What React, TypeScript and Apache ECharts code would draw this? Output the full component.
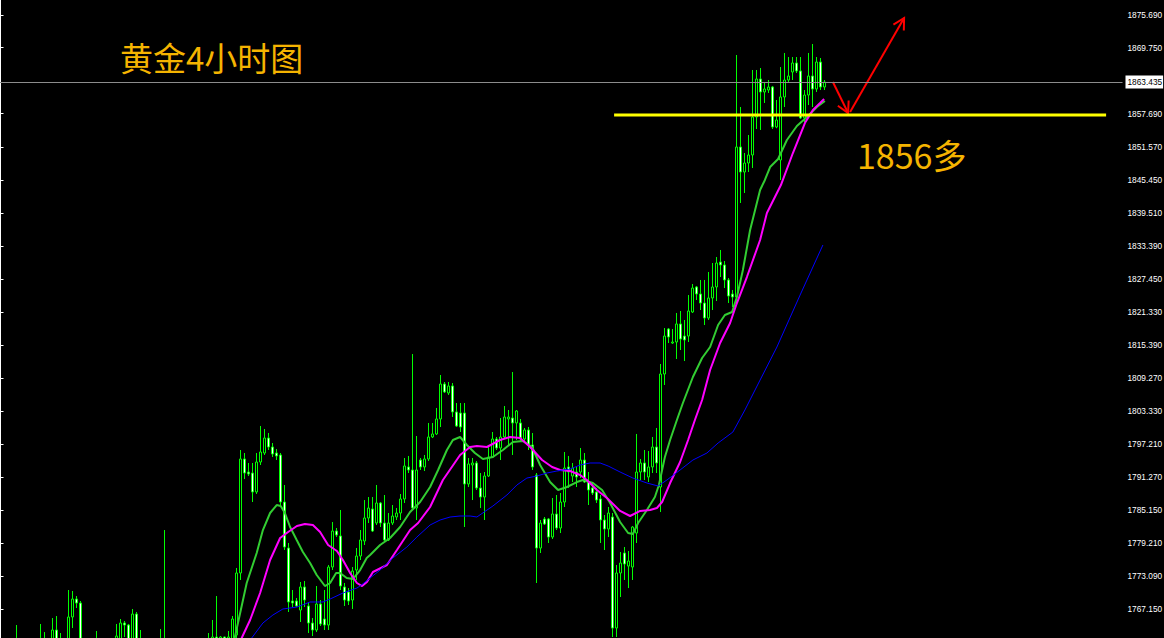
import React, { useEffect, useRef } from "react";
import * as echarts from "echarts";

// 4-hour bar slots across the plot (the last ~74 are empty space to the right)
const SLOT_COUNT = 281;
const barSlots: string[] = Array.from({ length: SLOT_COUNT }, (_, i) => "B" + (i + 1));

// candles: [open, close, low, high]
const candles: number[][] = [
  [1757.2, 1758.4, 1755.9, 1759.6], [1758.4, 1757.6, 1756.2, 1759.3], [1757.6, 1756.5, 1755.1, 1758.7],
  [1756.5, 1758.9, 1755.8, 1760.2], [1758.9, 1760.3, 1757.4, 1764.22], [1760.3, 1758.1, 1757.0, 1760.9],
  [1758.1, 1756.9, 1755.4, 1759.2], [1756.9, 1755.3, 1753.8, 1757.8], [1755.3, 1756.8, 1754.1, 1757.9],
  [1756.8, 1758.6, 1755.9, 1759.7], [1758.6, 1760.4, 1757.3, 1764.41], [1760.4, 1759.2, 1758.0, 1762.94],
  [1759.2, 1760.1, 1757.9, 1761.2], [1760.1, 1763.31, 1759.4, 1765.5], [1763.31, 1759.8, 1758.7, 1765.87],
  [1759.8, 1760.6, 1758.2, 1762.76], [1760.6, 1761.3, 1759.0, 1761.6], [1761.3, 1765.69, 1760.2, 1770.62],
  [1765.69, 1768.97, 1763.67, 1770.44], [1768.97, 1768.24, 1767.33, 1769.52], [1768.24, 1760.5, 1759.3, 1768.61],
  [1760.5, 1758.2, 1757.1, 1761.0], [1758.2, 1757.0, 1755.8, 1759.4], [1757.0, 1758.6, 1756.1, 1759.8],
  [1758.6, 1760.8, 1757.5, 1763.13], [1760.8, 1759.1, 1758.2, 1761.4], [1759.1, 1757.3, 1756.0, 1759.9],
  [1757.3, 1756.2, 1754.9, 1758.1], [1756.2, 1758.7, 1755.4, 1759.6], [1758.7, 1762.21, 1757.9, 1764.41],
  [1761.2, 1764.59, 1760.4, 1765.32], [1764.59, 1764.22, 1762.03, 1764.95], [1764.22, 1760.9, 1759.8, 1764.41],
  [1760.9, 1766.23, 1759.6, 1767.15], [1766.23, 1760.2, 1758.9, 1766.6], [1760.2, 1759.1, 1757.8, 1763.31],
  [1759.1, 1757.4, 1756.2, 1760.0], [1757.4, 1756.0, 1754.8, 1758.3], [1756.0, 1757.9, 1755.2, 1758.8],
  [1757.9, 1759.6, 1756.8, 1760.7], [1759.6, 1758.0, 1757.1, 1763.49], [1758.0, 1759.4, 1756.5, 1781.58],
  [1759.4, 1757.7, 1756.3, 1760.5], [1757.7, 1756.2, 1755.0, 1758.6], [1756.2, 1754.8, 1753.6, 1757.1],
  [1754.8, 1756.3, 1753.9, 1757.2], [1756.3, 1755.1, 1754.0, 1757.5], [1755.1, 1753.6, 1752.4, 1756.0],
  [1753.6, 1755.4, 1752.9, 1756.3], [1755.4, 1757.2, 1754.6, 1758.1], [1757.2, 1758.9, 1756.3, 1759.8],
  [1758.9, 1757.5, 1756.7, 1760.3], [1757.5, 1759.6, 1756.9, 1762.76], [1759.6, 1762.03, 1758.8, 1765.14],
  [1762.03, 1760.4, 1759.2, 1769.52], [1760.4, 1762.03, 1759.8, 1762.2], [1762.03, 1760.8, 1759.9, 1762.1],
  [1760.8, 1762.03, 1760.1, 1763.13], [1761.3, 1765.32, 1760.4, 1765.87], [1762.4, 1773.73, 1761.2, 1774.64],
  [1773.73, 1794.56, 1772.45, 1796.2], [1794.56, 1792.0, 1790.9, 1795.65], [1792.18, 1791.82, 1791.45, 1793.83],
  [1792.0, 1788.53, 1786.7, 1793.83], [1788.53, 1794.01, 1788.16, 1795.65], [1794.01, 1795.84, 1793.46, 1800.59],
  [1795.65, 1798.39, 1795.29, 1800.04], [1798.39, 1796.75, 1796.2, 1799.31], [1796.75, 1795.47, 1794.92, 1797.48],
  [1795.65, 1795.11, 1794.37, 1796.38], [1795.29, 1786.7, 1786.15, 1795.65], [1786.7, 1778.48, 1777.93, 1789.81],
  [1778.29, 1768.43, 1766.6, 1779.21], [1768.61, 1768.24, 1767.51, 1770.62], [1768.61, 1767.7, 1767.51, 1769.16],
  [1766.96, 1771.17, 1764.77, 1772.08], [1771.17, 1768.79, 1767.51, 1772.26], [1767.7, 1764.59, 1762.76, 1768.43],
  [1764.59, 1763.31, 1762.21, 1765.5], [1763.31, 1768.06, 1762.94, 1771.35], [1768.06, 1764.41, 1764.04, 1768.79],
  [1765.32, 1764.22, 1763.31, 1770.62], [1764.22, 1774.82, 1763.31, 1775.19], [1774.82, 1781.4, 1774.27, 1783.04],
  [1781.4, 1780.67, 1780.3, 1781.95], [1780.49, 1771.35, 1770.62, 1785.24], [1771.17, 1768.79, 1767.7, 1771.9],
  [1770.25, 1768.61, 1767.88, 1770.98], [1768.79, 1774.09, 1767.15, 1774.82], [1774.27, 1776.83, 1772.45, 1778.29],
  [1776.83, 1779.76, 1776.1, 1781.58], [1779.57, 1783.78, 1778.84, 1787.06], [1783.78, 1785.6, 1782.86, 1787.61],
  [1785.42, 1781.4, 1781.22, 1787.61], [1782.86, 1786.52, 1782.5, 1789.81], [1786.52, 1782.86, 1782.13, 1786.7],
  [1782.86, 1779.76, 1779.57, 1787.98], [1779.76, 1782.86, 1779.57, 1784.69], [1782.86, 1784.14, 1782.5, 1786.15],
  [1783.96, 1784.69, 1783.41, 1785.6], [1784.69, 1787.25, 1783.41, 1788.16], [1787.25, 1793.28, 1786.52, 1794.74],
  [1793.1, 1792.55, 1792.0, 1795.11], [1792.55, 1785.6, 1785.24, 1813.74], [1785.6, 1792.55, 1783.41, 1798.76],
  [1794.37, 1793.1, 1792.55, 1794.74], [1793.1, 1794.56, 1792.36, 1795.29], [1794.56, 1798.58, 1794.19, 1801.14],
  [1798.58, 1799.13, 1798.39, 1801.14], [1799.13, 1801.87, 1798.94, 1803.88], [1801.87, 1808.26, 1800.4, 1809.91],
  [1808.26, 1806.8, 1806.62, 1808.63], [1806.62, 1807.9, 1806.25, 1808.63], [1807.9, 1803.15, 1802.23, 1808.44],
  [1803.15, 1800.59, 1800.4, 1804.79], [1802.96, 1800.4, 1799.49, 1804.79], [1802.96, 1789.99, 1782.13, 1804.79],
  [1789.99, 1793.65, 1789.44, 1794.74], [1793.46, 1793.83, 1787.06, 1794.74], [1793.83, 1789.26, 1788.89, 1794.19],
  [1789.26, 1787.61, 1785.6, 1792.0], [1787.61, 1791.45, 1783.41, 1792.18], [1791.45, 1794.92, 1791.27, 1797.12],
  [1794.92, 1798.21, 1794.74, 1799.49], [1798.21, 1796.57, 1796.2, 1798.58], [1796.57, 1798.58, 1794.37, 1802.05],
  [1798.58, 1802.23, 1798.39, 1804.24], [1801.87, 1802.23, 1797.12, 1803.51], [1802.05, 1801.14, 1795.29, 1810.45],
  [1801.14, 1803.33, 1798.03, 1803.51], [1801.14, 1798.21, 1797.66, 1801.87], [1798.21, 1799.86, 1797.48, 1800.22],
  [1799.86, 1797.12, 1796.2, 1800.4], [1797.12, 1793.1, 1792.55, 1799.31], [1791.63, 1778.29, 1771.9, 1792.0],
  [1778.29, 1782.86, 1777.38, 1783.41], [1783.59, 1782.68, 1782.5, 1783.96], [1783.59, 1780.3, 1779.21, 1783.78],
  [1780.3, 1784.51, 1779.94, 1787.43], [1784.51, 1781.95, 1781.58, 1787.98], [1781.95, 1786.7, 1781.03, 1788.34],
  [1786.7, 1792.91, 1785.79, 1795.84], [1793.1, 1792.18, 1789.26, 1795.11], [1791.45, 1792.91, 1790.35, 1793.83],
  [1792.18, 1791.27, 1789.44, 1793.1], [1792.18, 1794.37, 1791.08, 1796.57], [1794.37, 1790.35, 1790.17, 1795.65],
  [1790.35, 1788.89, 1786.15, 1792.18], [1789.26, 1788.34, 1787.98, 1790.35], [1788.53, 1787.06, 1786.52, 1789.26],
  [1787.25, 1783.41, 1779.21, 1787.98], [1783.41, 1781.77, 1777.93, 1784.32], [1781.77, 1784.69, 1780.3, 1785.79],
  [1783.96, 1763.67, 1762.03, 1784.69], [1763.67, 1773.73, 1762.03, 1775.19], [1773.73, 1775.55, 1769.34, 1777.56],
  [1777.38, 1775.37, 1772.45, 1778.48], [1775.0, 1775.92, 1770.98, 1777.75], [1774.82, 1782.13, 1772.45, 1782.31],
  [1781.03, 1792.18, 1779.21, 1799.13], [1792.18, 1793.83, 1790.72, 1794.56], [1793.83, 1792.18, 1790.72, 1796.2],
  [1791.27, 1793.1, 1790.35, 1796.02], [1793.1, 1796.75, 1792.0, 1798.58], [1796.75, 1793.83, 1792.0, 1800.22],
  [1789.44, 1810.09, 1784.87, 1811.92], [1810.09, 1817.03, 1808.08, 1818.49], [1818.31, 1816.85, 1815.75, 1818.49],
  [1815.75, 1815.94, 1815.57, 1818.31], [1815.94, 1819.23, 1812.83, 1821.24], [1819.23, 1816.48, 1814.47, 1821.6],
  [1817.03, 1816.3, 1812.46, 1819.96], [1817.03, 1821.6, 1815.94, 1824.52], [1821.42, 1825.8, 1821.24, 1826.53],
  [1825.99, 1824.71, 1823.61, 1826.17], [1824.71, 1823.06, 1821.78, 1827.27], [1823.06, 1820.32, 1819.04, 1827.27],
  [1820.32, 1823.98, 1819.96, 1828.73], [1823.98, 1825.99, 1821.78, 1830.37], [1825.99, 1830.37, 1823.43, 1831.47],
  [1830.55, 1830.01, 1827.81, 1832.75], [1830.01, 1827.27, 1825.8, 1830.74], [1827.27, 1824.34, 1823.06, 1827.63],
  [1824.71, 1824.16, 1822.33, 1825.44], [1824.16, 1851.57, 1823.06, 1868.38], [1851.57, 1847.0, 1841.34, 1858.88],
  [1847.0, 1848.64, 1843.16, 1850.47], [1848.64, 1850.11, 1847.0, 1853.76], [1850.11, 1857.05, 1847.73, 1865.64],
  [1857.05, 1863.99, 1854.86, 1865.64], [1863.99, 1861.62, 1854.68, 1866.0], [1861.62, 1862.17, 1859.61, 1863.45],
  [1861.98, 1862.53, 1861.44, 1863.81], [1862.53, 1855.22, 1854.86, 1862.72], [1855.22, 1856.5, 1855.0, 1860.16],
  [1849.19, 1860.71, 1845.54, 1866.19], [1860.71, 1863.81, 1858.88, 1868.75], [1863.81, 1864.54, 1863.45, 1868.01],
  [1865.27, 1866.92, 1863.81, 1868.01], [1866.92, 1865.46, 1865.09, 1868.01], [1865.46, 1856.87, 1856.69, 1868.01],
  [1856.87, 1861.07, 1856.14, 1861.98], [1861.07, 1864.54, 1859.24, 1868.75], [1864.54, 1862.17, 1858.88, 1870.39],
  [1862.17, 1867.1, 1861.62, 1868.01], [1867.1, 1862.53, 1861.98, 1867.83], [1862.53, 1863.44, 1861.98, 1863.81],
];

// moving averages: [bar position, price]
const maFast: number[][] = [
  [57.9, 1759.66], [61.55, 1771.9], [64.05, 1777.38], [65.6, 1781.58], [67.4, 1784.69], [69.05, 1786.15],
  [70.05, 1785.97], [71.1, 1784.69], [72.4, 1782.13], [74.05, 1779.76], [75.6, 1777.56], [77.4, 1775.55],
  [79.05, 1773.36], [81.1, 1771.35], [82.4, 1771.9], [83.9, 1773.73], [84.9, 1773.73], [86.55, 1772.81],
  [88.1, 1772.63], [89.9, 1774.27], [91.55, 1776.47], [92.4, 1777.01], [94.9, 1778.84], [97.4, 1780.12],
  [99.9, 1782.13], [102.4, 1784.87], [104.9, 1786.7], [107.4, 1789.44], [109.4, 1792.55], [111.6, 1796.2],
  [113.1, 1798.03], [114.9, 1798.58], [116.6, 1797.12], [118.6, 1795.65], [120.6, 1794.56], [123.1, 1794.92],
  [125.6, 1796.2], [128.1, 1797.66], [130.6, 1797.85], [132.9, 1796.75], [134.9, 1793.46], [137.4, 1790.35],
  [139.4, 1788.89], [141.6, 1789.44], [144.1, 1790.35], [145.6, 1790.72], [148.1, 1790.17], [150.4, 1788.89],
  [152.4, 1786.52], [154.9, 1783.04], [156.9, 1781.03], [158.1, 1780.85], [159.4, 1782.86], [161.6, 1785.24],
  [163.6, 1787.61], [164.6, 1789.81], [166.1, 1794.92], [167.4, 1798.03], [169.1, 1801.68], [170.6, 1804.79],
  [173.1, 1809.54], [175.4, 1813.01], [177.4, 1815.02], [179.4, 1819.04], [181.1, 1820.87], [182.9, 1821.42],
  [184.1, 1824.16], [185.6, 1829.09], [187.4, 1836.4], [189.9, 1843.71], [191.1, 1845.54], [192.4, 1847.91],
  [194.4, 1849.38], [196.6, 1852.85], [199.1, 1855.41], [201.6, 1857.05], [204.1, 1858.88], [206.1, 1859.97],
];
const maMid: number[][] = [
  [58.9, 1759.66], [60.3, 1761.85], [62.4, 1765.14], [64.9, 1770.07], [67.4, 1776.1], [69.9, 1780.12],
  [71.9, 1781.22], [74.1, 1782.31], [76.1, 1782.68], [78.1, 1782.5], [79.9, 1781.22], [81.9, 1778.84],
  [84.1, 1777.75], [85.6, 1776.1], [87.4, 1773.73], [89.1, 1771.9], [90.4, 1771.35], [91.6, 1772.08],
  [93.1, 1773.91], [96.6, 1775.19], [99.1, 1777.93], [102.4, 1781.58], [104.4, 1782.86], [107.4, 1785.79],
  [110.6, 1790.72], [114.9, 1795.29], [117.4, 1796.75], [119.1, 1796.93], [121.6, 1796.75], [124.9, 1798.03],
  [127.4, 1798.58], [129.9, 1798.39], [132.4, 1796.75], [135.4, 1794.37], [137.9, 1793.1], [139.9, 1792.55],
  [142.4, 1792.36], [144.9, 1791.63], [146.6, 1790.72], [149.1, 1788.89], [151.6, 1787.43], [154.9, 1785.06],
  [157.4, 1784.14], [159.9, 1785.06], [162.4, 1785.24], [164.1, 1785.6], [165.4, 1786.7], [167.4, 1790.17],
  [169.9, 1794.01], [171.9, 1798.03], [173.6, 1801.68], [175.4, 1805.34], [177.4, 1810.82], [179.9, 1815.75],
  [182.4, 1819.41], [184.1, 1823.06], [186.6, 1827.81], [189.9, 1834.57], [191.6, 1839.51], [195.1, 1844.62],
  [198.1, 1850.47], [201.1, 1855.95], [203.1, 1858.33], [204.9, 1859.61], [205.9, 1860.34],
];
const maSlow: number[][] = [
  [62.4, 1760.57], [62.8, 1761.85], [65.6, 1764.59], [68.1, 1766.05], [70.6, 1767.15], [74.1, 1767.51],
  [77.4, 1768.43], [80.6, 1768.43], [82.4, 1768.97], [85.6, 1770.07], [89.1, 1770.98], [89.9, 1771.35],
  [92.4, 1772.81], [94.9, 1774.27], [98.1, 1776.47], [101.6, 1778.48], [104.1, 1780.3], [107.4, 1782.5],
  [109.9, 1783.41], [112.4, 1783.96], [114.9, 1784.14], [117.4, 1784.14], [119.1, 1783.96], [123.1, 1785.97],
  [126.6, 1787.98], [129.1, 1789.81], [131.6, 1791.08], [134.1, 1791.45], [136.6, 1792.0], [139.1, 1792.36],
  [142.4, 1792.73], [144.9, 1793.46], [147.4, 1793.83], [149.9, 1793.83], [151.9, 1793.28], [154.9, 1792.18],
  [158.1, 1791.08], [161.6, 1790.17], [164.4, 1789.62], [166.6, 1790.72], [169.9, 1792.55], [173.1, 1794.37],
  [176.6, 1795.65], [179.4, 1797.48], [183.1, 1799.49], [186.1, 1803.51], [189.9, 1808.99], [194.1, 1815.02],
  [199.9, 1824.52], [205.6, 1833.66],
];

const priceTicks: number[] = [
  1875.69, 1869.75, 1857.69, 1851.57, 1845.45, 1839.51, 1833.39, 1827.45, 1821.33,
  1815.39, 1809.27, 1803.33, 1797.21, 1791.27, 1785.15, 1779.21, 1773.09, 1767.15,
];
const currentPrice = 1863.435;
const supportLine: number[][] = [[153.4, 1857.42], [276.4, 1857.42]];
const arrowDown: number[][] = [[208.1, 1863.45], [211.9, 1857.78]];
const arrowUp: number[][] = [[212.4, 1857.96], [225.9, 1875.14]];
const titleText = "黄金4小时图";
const noteText = "1856多";

const Y_MIN = 1761.85;
const Y_MAX = 1878.43;
const GOLD = "#F5B400";

export default function App() {
  const ref = useRef<HTMLDivElement>(null);
  useEffect(() => {
    if (!ref.current) return;
    const chart = echarts.init(ref.current, null, { renderer: "svg" });
    const option: any = {
      animation: false,
      backgroundColor: "#000000",
      grid: {
        left: -1.5, right: 41.5, top: 0, bottom: 0,
        containLabel: false,
        outerBoundsMode: "none",
      },
      xAxis: [
        { type: "category", data: barSlots, show: false, boundaryGap: true },
        { type: "value", min: -0.5, max: SLOT_COUNT - 0.5, show: false },
      ],
      yAxis: {
        type: "value",
        position: "right",
        min: Y_MIN,
        max: Y_MAX,
        axisLine: { show: true, lineStyle: { color: "#ffffff", width: 1 } },
        axisTick: { show: true, length: 3, customValues: priceTicks, lineStyle: { color: "#ffffff" } },
        axisLabel: {
          customValues: priceTicks,
          formatter: (v: number) => v.toFixed(3),
          color: "#ffffff",
          fontSize: 8.3,
          fontFamily: "Liberation Sans",
          margin: 5,
        },
        splitLine: { show: false },
      },
      series: [
        {
          type: "candlestick",
          xAxisIndex: 0,
          data: candles,
          barWidth: 3,
          clip: true,
          itemStyle: {
            color: "#000000",
            color0: "#ffffff",
            borderColor: "#00ff00",
            borderColor0: "#00ff00",
            borderWidth: 1,
          },
          markLine: {
            silent: true,
            symbol: ["none", "none"],
            data: [{ yAxis: currentPrice }],
            lineStyle: { color: "#8c8c8c", width: 1, type: "solid" },
            label: {
              position: "end",
              formatter: currentPrice.toFixed(3),
              backgroundColor: "#ffffff",
              color: "#000000",
              fontSize: 8.3,
              fontFamily: "Liberation Sans",
              padding: [3, 1, 2, 2],
              distance: 3,
            },
          },
        },
        {
          type: "line", xAxisIndex: 1, data: maFast, symbol: "none", clip: true,
          lineStyle: { color: "#32cd32", width: 2 },
        },
        {
          type: "line", xAxisIndex: 1, data: maMid, symbol: "none", clip: true,
          lineStyle: { color: "#ff00ff", width: 2 },
        },
        {
          type: "line", xAxisIndex: 1, data: maSlow, symbol: "none", clip: true,
          lineStyle: { color: "#0000ff", width: 1 },
        },
        {
          type: "line", xAxisIndex: 1, data: supportLine, symbol: "none", clip: true,
          lineStyle: { color: "#ffff00", width: 3 },
        },
      ],
    };
    chart.setOption(option);

    const px = (p: number[]) => chart.convertToPixel({ seriesIndex: 4 }, p) as number[];
    const arrow = (seg: number[][], id: string) => {
      const a = px(seg[0]);
      const b = px(seg[1]);
      const dx = b[0] - a[0];
      const dy = b[1] - a[1];
      const len = Math.hypot(dx, dy) || 1;
      const ux = dx / len;
      const uy = dy / len;
      const L = 11;
      const W = 6;
      const left = [b[0] - L * ux - W * uy, b[1] - L * uy + W * ux];
      const right = [b[0] - L * ux + W * uy, b[1] - L * uy - W * ux];
      return [
        { id: id + "s", type: "polyline", shape: { points: [a, b] }, style: { stroke: "#ff0000", lineWidth: 2, fill: "none" } },
        { id: id + "h", type: "polyline", shape: { points: [left, b, right] }, style: { stroke: "#ff0000", lineWidth: 2, fill: "none" } },
      ];
    };
    chart.setOption({
      graphic: [
        {
          id: "title", type: "text", x: 120, y: 57,
          style: { text: titleText, fill: GOLD, font: '33px "Noto Sans CJK SC"', verticalAlign: "middle" },
        },
        {
          id: "note", type: "text", x: 857, y: 154,
          style: { text: noteText, fill: GOLD, font: '34px "Noto Sans CJK SC"', verticalAlign: "middle" },
        },
        ...arrow(arrowDown, "a1"),
        ...arrow(arrowUp, "a2"),
      ],
    });
    return () => chart.dispose();
  }, []);
  return <div ref={ref} style={{ position: "fixed", left: 0, top: 0, width: 1164, height: 638 }} />;
}
